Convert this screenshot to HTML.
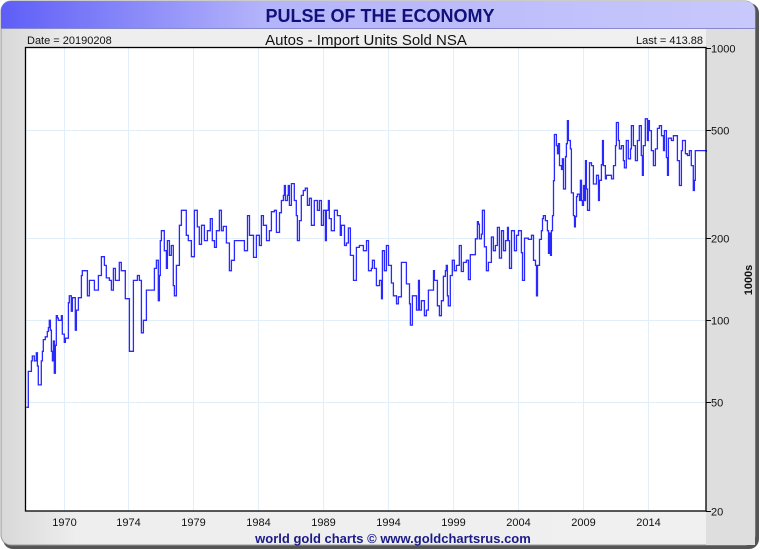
<!DOCTYPE html>
<html><head><meta charset="utf-8"><style>
html,body{margin:0;padding:0;width:760px;height:550px;overflow:hidden;background:#fff;font-family:"Liberation Sans",sans-serif}
</style></head><body>
<svg id="chart" width="760" height="550" viewBox="0 0 760 550" xmlns="http://www.w3.org/2000/svg" font-family="Liberation Sans, sans-serif">
<defs>
<linearGradient id="tg" x1="0" x2="1" y1="0" y2="0"><stop offset="0" stop-color="#5e5ef8"/><stop offset="0.35" stop-color="#b4b4fa"/><stop offset="1" stop-color="#c8c8fc"/></linearGradient>
<linearGradient id="pg" x1="0" x2="1" y1="0" y2="0"><stop offset="0" stop-color="#d8d8d8"/><stop offset="0.1" stop-color="#eeeeee"/><stop offset="1" stop-color="#f0f0f0"/></linearGradient>
</defs>
<rect x="3" y="3" width="756" height="546" rx="10" fill="#555"/>
<rect x="1" y="1" width="754" height="544" rx="10" fill="url(#pg)" stroke="#9a9a9a"/>
<path d="M1 28 V11 A10 10 0 0 1 11 1 H745 A10 10 0 0 1 755 11 V28 Z" fill="url(#tg)"/>
<line x1="1" y1="28.5" x2="755" y2="28.5" stroke="#8888cc"/>
<text x="380" y="22" text-anchor="middle" font-size="18" font-weight="bold" fill="#10107a">PULSE OF THE ECONOMY</text>
<rect x="706" y="29" width="49" height="516" fill="#dedede"/>
<text x="27" y="44" font-size="11" fill="#111">Date = 20190208</text>
<text x="366" y="45" text-anchor="middle" font-size="15" fill="#111">Autos - Import Units Sold NSA</text>
<text x="703" y="44" text-anchor="end" font-size="11" fill="#111">Last = 413.88</text>
<rect x="25.5" y="47.5" width="680.5" height="463.5" fill="#fff"/>
<g id="grid"></g>
<g id="series"></g>
<rect x="25.5" y="47.5" width="680.5" height="463.5" fill="none" stroke="#000" stroke-width="1.3"/>
<g id="axes"></g>
<text transform="translate(752,280) rotate(-90)" text-anchor="middle" font-size="11" font-weight="bold" fill="#111">1000s</text>
<text x="393" y="543" text-anchor="middle" font-size="13" font-weight="bold" fill="#1a1a8a">world gold charts © www.goldchartsrus.com</text>
</svg>
<script>
const yTickValues=[20,50,100,200,500,1000];
const xTickYears=[1969.9,1974.8,1979.7,1984.6,1989.5,1994.4,1999.3,2004.2,2009.1,2014.0];
const xTickLabels=["1970","1974","1979","1984","1989","1994","1999","2004","2009","2014"];
const years=[1967.10,1967.25,1967.48,1967.55,1967.70,1967.85,1967.93,1968.00,1968.23,1968.31,1968.38,1968.53,1968.68,1968.76,1968.83,1968.91,1968.99,1969.06,1969.14,1969.21,1969.29,1969.36,1969.44,1969.51,1969.66,1969.74,1969.81,1969.96,1970.04,1970.27,1970.34,1970.49,1970.57,1970.79,1970.87,1971.02,1971.25,1971.32,1971.47,1971.70,1971.85,1972.23,1972.53,1972.76,1972.98,1973.13,1973.36,1973.51,1973.66,1973.81,1974.11,1974.26,1974.56,1974.87,1975.17,1975.47,1975.62,1975.77,1975.92,1976.15,1976.37,1976.75,1976.90,1977.05,1977.13,1977.20,1977.28,1977.50,1977.66,1977.73,1977.88,1978.03,1978.18,1978.26,1978.41,1978.64,1978.79,1979.16,1979.31,1979.54,1979.77,1979.99,1980.14,1980.30,1980.52,1980.75,1980.97,1981.12,1981.28,1981.43,1981.65,1981.80,1981.95,1982.18,1982.41,1982.56,1982.78,1982.93,1983.31,1983.54,1983.77,1983.92,1984.22,1984.44,1984.67,1984.82,1984.97,1985.20,1985.42,1985.57,1985.80,1985.95,1986.18,1986.33,1986.48,1986.55,1986.63,1986.78,1986.85,1986.93,1987.08,1987.30,1987.45,1987.53,1987.68,1987.83,1987.98,1988.13,1988.29,1988.44,1988.59,1988.81,1989.04,1989.19,1989.34,1989.49,1989.64,1989.72,1989.87,1989.94,1990.09,1990.32,1990.55,1990.77,1990.85,1991.08,1991.23,1991.38,1991.53,1991.76,1991.98,1992.21,1992.51,1992.74,1992.89,1993.11,1993.19,1993.34,1993.49,1993.72,1993.87,1993.94,1994.09,1994.24,1994.40,1994.62,1994.77,1995.00,1995.15,1995.37,1995.52,1995.75,1995.98,1996.05,1996.20,1996.36,1996.51,1996.66,1996.73,1996.88,1997.11,1997.26,1997.41,1997.64,1997.79,1997.86,1998.09,1998.24,1998.39,1998.54,1998.69,1998.76,1998.84,1998.91,1999.06,1999.21,1999.36,1999.52,1999.74,1999.89,2000.05,2000.27,2000.42,2000.57,2000.73,2000.95,2001.10,2001.18,2001.25,2001.40,2001.48,2001.63,2001.78,2001.93,2002.16,2002.31,2002.46,2002.61,2002.76,2002.92,2003.07,2003.22,2003.37,2003.44,2003.52,2003.67,2003.89,2004.05,2004.20,2004.42,2004.50,2004.65,2004.95,2005.18,2005.33,2005.48,2005.56,2005.63,2005.78,2005.93,2006.01,2006.08,2006.23,2006.38,2006.46,2006.53,2006.61,2006.68,2006.76,2006.84,2006.91,2007.06,2007.14,2007.21,2007.29,2007.44,2007.51,2007.59,2007.74,2007.81,2007.89,2007.96,2008.11,2008.19,2008.34,2008.42,2008.49,2008.57,2008.64,2008.80,2008.87,2008.95,2009.02,2009.10,2009.17,2009.25,2009.32,2009.40,2009.55,2009.70,2009.85,2010.08,2010.23,2010.30,2010.45,2010.53,2010.60,2010.75,2010.83,2011.06,2011.21,2011.36,2011.51,2011.58,2011.73,2011.81,2011.96,2012.11,2012.18,2012.33,2012.48,2012.64,2012.71,2012.86,2013.01,2013.16,2013.31,2013.46,2013.54,2013.61,2013.76,2013.92,2013.99,2014.07,2014.22,2014.37,2014.52,2014.67,2014.82,2014.98,2015.13,2015.20,2015.35,2015.43,2015.50,2015.73,2015.88,2016.03,2016.18,2016.33,2016.48,2016.56,2016.78,2016.93,2017.08,2017.23,2017.31,2017.38,2017.46,2017.53,2018.36];
const values=[48,65,71,74,71,76,68,58,71,77,85,87,91,94,100,92,77,71,84,64,81,104,102,100,100,104,89,83,86,116,123,108,121,92,109,121,146,152,152,123,140,129,146,171,159,143,140,129,155,140,163,152,120,77,140,146,140,90,100,129,129,155,166,118,146,196,213,180,155,196,173,188,134,123,159,223,253,205,196,171,253,220,190,223,196,213,236,196,185,213,253,213,221,192,152,166,196,196,196,180,242,205,170,205,188,242,223,196,213,250,253,210,248,275,287,312,275,287,312,264,317,275,242,196,232,287,299,305,264,280,223,275,253,275,223,253,196,253,275,236,213,253,242,205,223,188,192,218,173,140,185,188,180,196,152,155,166,155,134,140,120,180,152,188,159,137,123,115,122,163,163,136,115,96,123,123,109,140,109,118,104,109,129,129,152,140,113,104,118,145,152,159,123,113,146,166,152,159,188,151,163,166,141,174,174,199,230,225,199,207,253,186,152,163,202,180,188,219,169,213,180,196,219,196,155,213,180,205,213,177,140,200,198,205,166,159,123,159,198,213,236,242,232,213,176,209,173,213,242,325,480,437,408,444,369,357,391,303,398,444,539,456,425,293,242,220,240,284,290,275,326,275,264,312,275,385,303,253,378,369,316,340,275,326,372,456,369,330,340,340,330,369,437,531,456,425,437,385,362,456,391,425,517,437,385,456,517,402,340,437,548,456,539,496,419,369,425,505,517,475,419,496,395,340,465,456,475,475,385,312,419,456,408,402,419,369,369,299,326,419,413.88];

const X0=25.5,X1=706,Y0=47.5,Y1=511;
const xOf=t=>63.5+(t-1969.9)*(65/4.9);
const lmin=Math.log10(20),lmax=Math.log10(1000);
const yOf=v=>Y1-(Math.log10(v)-lmin)/(lmax-lmin)*(Y1-Y0);
const NS="http://www.w3.org/2000/svg";
const grid=document.getElementById('grid'),axes=document.getElementById('axes'),series=document.getElementById('series');
function mk(tag,attrs){const e=document.createElementNS(NS,tag);for(const k in attrs)e.setAttribute(k,attrs[k]);return e;}
yTickValues.forEach(v=>{
  const y=Math.round(yOf(v))+0.5;
  if(v>20&&v<1000){const g=mk('line',{x1:X0,x2:X1,y1:y,y2:y,stroke:'#e2eef8','stroke-width':1});
  
  
  grid.appendChild(g);}
  const tk=mk('line',{x1:X1,x2:X1+5,y1:y,y2:y,stroke:'#000'});
  
  
  axes.appendChild(tk);
  const tx=mk('text',{x:X1+5,y:y+4,'font-size':11,fill:'#111'});
  tx.textContent=String(v);
  
  
  axes.appendChild(tx);
});
xTickYears.forEach((t,i)=>{
  const x=Math.round(xOf(t))+0.5;
  const g=mk('line',{x1:x,x2:x,y1:Y0,y2:Y1,stroke:'#e2eef8','stroke-width':1});
  
  
  grid.appendChild(g);
  const tx=mk('text',{x:x,y:526,'font-size':11,fill:'#111','text-anchor':'middle'});
  tx.textContent=xTickLabels[i];
  
  
  axes.appendChild(tx);
});
let d='';
years.forEach((t,i)=>{
  const x=xOf(t).toFixed(1),y=yOf(values[i]).toFixed(1);
  if(i===0)d+='M'+x+' '+y;else d+='H'+x+'V'+y;
});
const p=mk('path',{d:d,fill:'none',stroke:'#2828ff','stroke-width':1.3,'stroke-linejoin':'miter'});


series.appendChild(p);
</script>
</body></html>
